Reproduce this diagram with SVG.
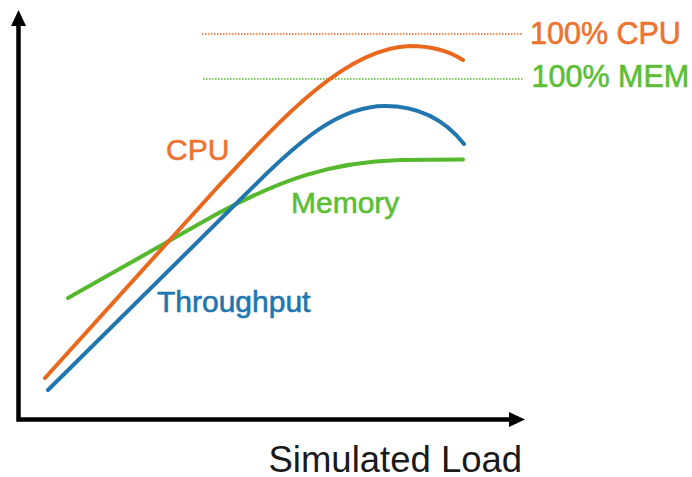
<svg xmlns="http://www.w3.org/2000/svg" width="692" height="477" viewBox="0 0 692 477">
  <style>
    .axis { fill: none; stroke: #000; stroke-width: 4.5; }
    .head { fill: #000; }
    .curve { fill: none; stroke-width: 4; stroke-linecap: round; stroke-linejoin: round; }
    .limit { fill: none; stroke-width: 1.5; stroke-dasharray: 1.5 1.5; }
    .lbl { font-family: "Liberation Sans", Arial, sans-serif; stroke-width: 0.6; }
    .big { font-size: 30.5px; }
    .mid { font-size: 30px; }
    .title { font-size: 36.5px; fill: #1a1a1a; stroke: none; }
    .cpu { stroke: #E9681E; }
    .thr { stroke: #2176AE; }
    .mem { stroke: #56B92D; }
    .t-cpu { fill: #EC7330; stroke: #EC7330; }
    .t-thr { fill: #2176AE; stroke: #2176AE; }
    .t-mem { fill: #5CBE37; stroke: #5CBE37; }
  </style>
  <rect width="692" height="477" fill="#fff"/>

  <!-- axes -->
  <g id="axes">
    <path class="axis" d="M18.5,22 V419.5 H512"/>
    <polygon class="head" points="18.5,10 26,26 11,26"/>
    <polygon class="head" points="525,419.5 509,412 509,427"/>
  </g>

  <!-- capacity limit lines -->
  <g id="limits">
    <line class="limit cpu" x1="202" y1="34" x2="522" y2="34"/>
    <line class="limit mem" x1="203" y1="79" x2="523" y2="79"/>
  </g>

  <!-- measured series -->
  <g id="series">
    <path id="memory-curve" class="curve mem" d="M68,298 L215,215 C280,180 330,162 400,160 L463,159.5"/>
    <path id="throughput-curve" class="curve thr" d="M48,390 L255,185 C300,140 340,106 385,106 C420,106 445,120 464,144"/>
    <path id="cpu-curve" class="curve cpu" d="M45,378 L215,190 C280,120 345,48 410,46 C435,46 452,53 463,60"/>
  </g>

  <!-- labels -->
  <g id="labels">
    <text class="lbl big t-cpu" x="530" y="44">100% CPU</text>
    <text class="lbl big t-mem" x="531.5" y="87">100% MEM</text>
    <text class="lbl mid t-cpu" x="166" y="160">CPU</text>
    <text class="lbl mid t-mem" x="291" y="213">Memory</text>
    <text class="lbl mid t-thr" x="157" y="312">Throughput</text>
    <text class="lbl title" x="268.5" y="472">Simulated Load</text>
  </g>
</svg>
